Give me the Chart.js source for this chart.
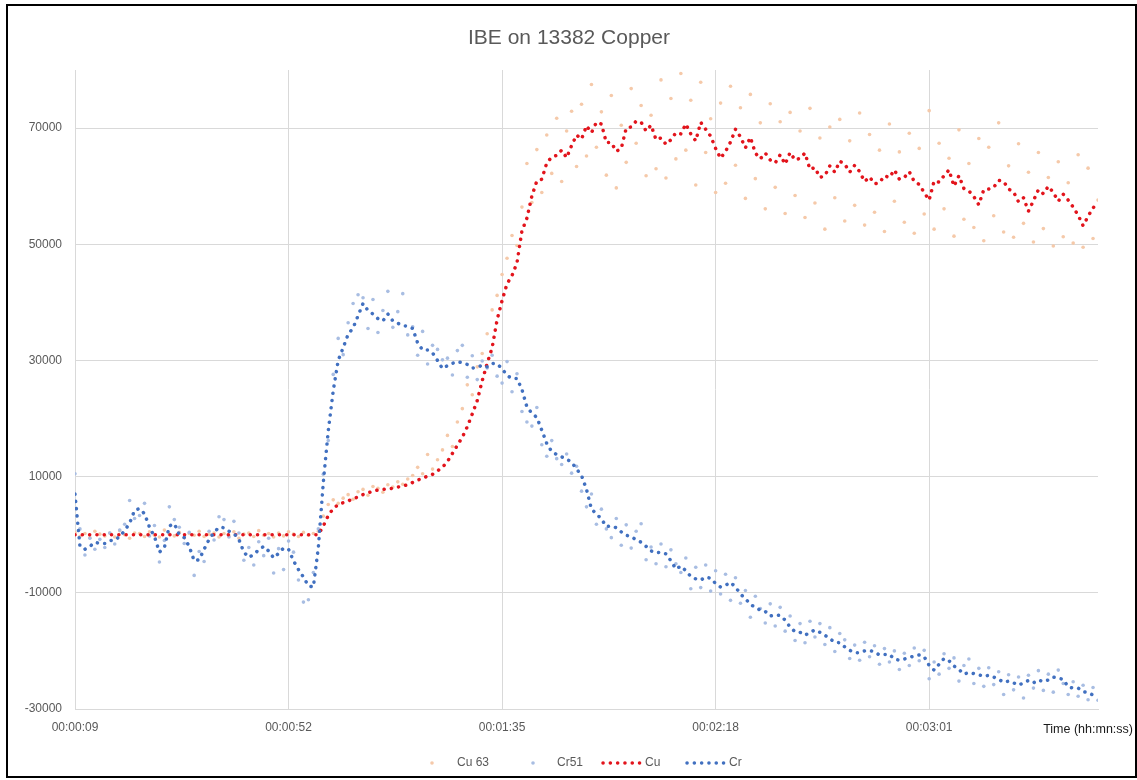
<!DOCTYPE html>
<html>

<head>
  <script src="https://cdn.jsdelivr.net/npm/chart.js@4.4.1/dist/chart.umd.min.js"></script>
  <style>
    body { margin: 0; background: #fff; }
    #wrap { position: relative; width: 1137px; height: 780px; }
    #frame { position: absolute; left: 6px; top: 4px; width: 1127px; height: 770px; border: 2px solid #000; pointer-events: none; }
  </style>
</head>

<body>
  <div id="wrap">
    <canvas id="chart" width="1137" height="780"></canvas>
    <div id="frame"></div>
  </div>
  <script>
    // elapsed time in seconds
    var seconds = [
      9, 10, 11, 12, 13, 14, 15, 16, 17, 18,
      19, 20, 21, 22, 23, 24, 25, 26, 27, 28,
      29, 30, 31, 32, 33, 34, 35, 36, 37, 38,
      39, 40, 41, 42, 43, 44, 45, 46, 47, 48,
      49, 50, 51, 52, 53, 54, 55, 56, 57, 58,
      59, 60, 61, 62, 63, 64, 65, 66, 67, 68,
      69, 70, 71, 72, 73, 74, 75, 76, 77, 78,
      79, 80, 81, 82, 83, 84, 85, 86, 87, 88,
      89, 90, 91, 92, 93, 94, 95, 96, 97, 98,
      99, 100, 101, 102, 103, 104, 105, 106, 107, 108,
      109, 110, 111, 112, 113, 114, 115, 116, 117, 118,
      119, 120, 121, 122, 123, 124, 125, 126, 127, 128,
      129, 130, 131, 132, 133, 134, 135, 136, 137, 138,
      139, 140, 141, 142, 143, 144, 145, 146, 147, 148,
      149, 150, 151, 152, 153, 154, 155, 156, 157, 158,
      159, 160, 161, 162, 163, 164, 165, 166, 167, 168,
      169, 170, 171, 172, 173, 174, 175, 176, 177, 178,
      179, 180, 181, 182, 183, 184, 185, 186, 187, 188,
      189, 190, 191, 192, 193, 194, 195, 196, 197, 198,
      199, 200, 201, 202, 203, 204, 205, 206, 207, 208,
      209, 210, 211, 212, 213, 214, 215
    ];

    var cu63 = [
      400, -300, 200, -500, 600, 100, -200, 300, -400, 700,
      0, -600, 300, 200, -300, 500, -100, -400, 800, 100,
      -200, 400, -500, 200, -100, 600, -300, 100, 300, -400,
      200, -200, 500, -600, 100, 300, -300, 700, -100, 200,
      -400, 300, -200, 500, 100, -300, 400, -100, 200, 600,
      3200, 5200, 6000, 5400, 6300, 6900, 6100, 7400, 7800, 6800,
      8300, 8000, 7300, 8600, 8200, 9100, 8700, 9600, 10200, 11600,
      10500, 13800, 11300, 12900, 14600, 17100, 15200, 19400, 21700, 25800,
      24100, 28900, 31200, 34600, 38700, 41200, 44800, 47600, 51500, 49800,
      56400, 63900, 57200, 66300, 58900, 68800, 62200, 71700, 60800, 69500,
      72900, 63400, 74100, 65200, 77500, 66700, 72800, 61900, 75600, 59700,
      70500, 64100, 76800, 67400, 73900, 61800, 72200, 63000, 78300, 61400,
      75100, 64700, 79400, 66200, 74800, 60200, 77900, 65800, 71600, 58900,
      74300, 60500, 77200, 63600, 73500, 57900, 75800, 61300, 70900, 56100,
      74200, 59800, 71100, 55300, 72700, 58400, 69500, 54600, 73400, 57100,
      68300, 52600, 70200, 58000, 71500, 54000, 67800, 56700, 72600, 53300,
      68900, 55500, 66200, 52200, 70700, 57400, 65900, 53800, 69100, 51900,
      66500, 55200, 73000, 52600, 67400, 56100, 64800, 51400, 69700, 54300,
      63900, 52900, 68200, 50600, 66700, 54900, 70900, 52100, 63500, 51200,
      67300, 53600, 62400, 50400, 65800, 52700, 61500, 49700, 64200, 51300,
      60600, 50200, 65400, 49500, 63100, 51000, 57600
    ];

    var cr51 = [
      10500, 1000, -3500, -600, -2500, -800, -2200, 300, -1600, 800,
      1800, 5900, 2800, 3300, 5400, -200, 1600, -4700, -1000, 4800,
      2600, 1300, -1500, 400, -7000, -2900, -4600, 600, -900, 3100,
      2600, -400, 2300, 300, -4400, -2200, -5200, -1200, -3600, -600,
      -6600, -2400, -6000, -1100, -3000, -7800, -11600, -11200, -6500, 1000,
      10400, 16200, 27600, 33800, 31000, 36500, 39800, 41300, 40800, 35500,
      40500, 34800, 38600, 41900, 35700, 38400, 41500, 34400, 35800, 30900,
      35000, 29400, 32600, 31900, 30100, 30400, 27500, 31700, 32600, 27100,
      30800, 26700, 29900, 28700, 30900, 27300, 26100, 29800, 24600, 27700,
      21200, 19400, 18700, 21900, 15500, 13500, 16200, 13100, 12100, 13900,
      10600, 11800, 7500, 4800, 7000, 1800, 4400, 1000, -500, 2800,
      -1800, 1700, -2300, 600, 1900, -4300, -2100, -5000, -1600, -5500,
      -2600, -5000, -6500, -4000, -9300, -5600, -9100, -5200, -9700, -6200,
      -10200, -6800, -11300, -7400, -11800, -9600, -14200, -10600, -12700, -15200,
      -11900, -15700, -12500, -16600, -14000, -18200, -15300, -18600, -14900, -17600,
      -15300, -18900, -16000, -20100, -17000, -18100, -21300, -19000, -21600, -18500,
      -21000, -19100, -22300, -19600, -21900, -20000, -23200, -20400, -22500, -19500,
      -21700, -19900, -24800, -21900, -24000, -20500, -23000, -21200, -25200, -22500,
      -21400, -25600, -23000, -26100, -22900, -25800, -23600, -27500, -24100, -26700,
      -24500, -28100, -24200, -26400, -23400, -26800, -24000, -27100, -23300, -25600,
      -27500, -25300, -27800, -25900, -28400, -26300, -28500
    ];

    var cu = [
      0, 0, 0, 0, 0, 0, 0, 0, 0, 0,
      0, 0, 0, 0, 0, 0, 0, 0, 0, 0,
      0, 0, 0, 0, 0, 0, 0, 0, 0, 0,
      0, 0, 0, 0, 0, 0, 0, 0, 0, 0,
      0, 0, 0, 0, 0, 0, 0, 0, 0, 0,
      1500, 3300, 4500, 5200, 5500, 5800, 6200, 6500, 6900, 7200,
      7500, 7700, 7800, 7900, 8000, 8200, 8400, 8600, 9000, 9400,
      9700, 10100, 10400, 11000, 11600, 12600, 14000, 15400, 16800, 18600,
      20800, 23100, 26500, 29500, 32200, 37000, 40300, 43200, 44600, 46800,
      52300, 54500, 58300, 60900, 61200, 64000, 65000, 65300, 66200, 64900,
      67000, 68800, 68100, 70400, 69200, 71000, 70700, 67500, 67500, 66000,
      66500, 70000, 70200, 71200, 71000, 69500, 70500, 68000, 68300, 67200,
      68000, 69200, 69000, 70700, 69000, 67800, 71000, 69800, 68600, 66500,
      64800, 66000, 67600, 69800, 68500, 66600, 68400, 65700, 64700, 65700,
      64500, 64000, 65400, 63800, 65800, 64500, 64800, 65700, 62900, 63200,
      61500, 61800, 63500, 62400, 64300, 63800, 62400, 63600, 62500, 60800,
      61600, 60400, 60600, 61800, 61500, 62800, 61200, 61500, 62500, 60800,
      60300, 58900, 57600, 60900, 60700, 61800, 62800, 60000, 61800, 59600,
      59200, 58200, 56800, 59400, 59500, 59800, 61000, 60800, 59500, 59000,
      57300, 58000, 55700, 57500, 59400, 58700, 60000, 58900, 57400, 58600,
      57600, 56400, 55000, 53200, 54800, 56300, 56900
    ];

    var cr = [
      7000, -2000, -2500, -2000, -1300, -1500, -1500, -1000, -950, -300,
      700, 2000, 4200, 4500, 3600, 1300, -300, -3000, -2200, 1500,
      1900, 0, -500, -2000, -4500, -4300, -2500, -800, 400, 1300,
      1200, 600, 200, -800, -3000, -3900, -3400, -2600, -2000, -2800,
      -4000, -3200, -2300, -2500, -4500, -6000, -7300, -8800, -9000, -2200,
      9000, 17900, 24800, 30000, 32200, 34500, 35600, 37700, 39800, 38600,
      38000, 37200, 36800, 38000, 36800, 36400, 36000, 35900, 35500, 33000,
      31800, 31800, 31300, 30000, 28600, 29100, 29500, 29800, 29600, 29300,
      28700, 28800, 29200, 28900, 29500, 29400, 28600, 27400, 26900, 26900,
      25000, 22000, 20900, 20200, 18000, 15700, 14300, 13800, 13400, 13000,
      12500, 11300, 10200, 7800, 4400, 3600, 2700, 1400, 1500, 1200,
      500, -100, -300, -900, -1300, -2000, -2800, -3100, -3000, -3300,
      -4500, -5900, -5400, -6200, -7200, -7600, -7800, -7300, -7500, -8400,
      -9000, -8700, -8200, -9000, -10200, -11000, -12000, -12500, -13000, -13200,
      -14000, -13800, -13900, -14700, -15900, -16700, -16800, -17300, -16800, -16400,
      -16800, -17300, -17900, -18500, -18600, -19300, -19900, -20300, -20300, -20000,
      -19900, -20200, -20700, -20600, -20600, -21400, -21600, -21400, -21100, -20900,
      -20700, -21000, -22500, -23300, -22300, -21300, -21700, -22600, -23200, -24000,
      -23700, -23900, -24100, -24400, -24200, -24500, -24900, -25400, -25200, -25500,
      -25900, -25500, -25100, -25500, -25000, -25300, -25000, -24500, -24700, -24900,
      -26200, -26400, -26400, -27000, -27200, -27600, -28100
    ];

    var xTicks = [9, 52, 95, 138, 181];
    var yTicks = [-30000, -10000, 10000, 30000, 50000, 70000];

    var CU63_COL = '#f5c9a9';
    var CR51_COL = '#a8bde2';
    var CU_COL = '#e2141c';
    var CR_COL = '#4170c0';
    var DOTS = [0.1, 7.2];
    var FONT = 'Liberation Sans';

    function pts(ys) {
      return seconds.map(function (t, i) { return { x: t, y: ys[i] }; });
    }

    function hms(v) {
      var h = Math.floor(v / 3600), m = Math.floor((v % 3600) / 60), s = v % 60;
      return [h, m, s].map(function (n) { return (n < 10 ? '0' : '') + n; }).join(':');
    }

    // title, axis caption and legend drawn on the canvas
    var decor = {
      id: 'decor',
      afterDraw: function (chart) {
        var c = chart.ctx;
        c.save();
        c.fillStyle = '#595959';
        c.textBaseline = 'middle';
        c.font = '21px "' + FONT + '"';
        c.textAlign = 'center';
        c.fillText('IBE on 13382 Copper', 569, 38);

        c.fillStyle = '#1a1a1a';
        c.font = '12.5px "' + FONT + '"';
        c.textAlign = 'right';
        c.fillText('Time (hh:mn:ss)', 1133, 730);

        c.textAlign = 'left';
        c.fillStyle = '#595959';
        c.font = '12px "' + FONT + '"';
        c.beginPath(); c.arc(432, 763, 1.8, 0, Math.PI * 2); c.fillStyle = CU63_COL; c.fill();
        c.fillStyle = '#595959'; c.fillText('Cu 63', 457, 763);
        c.beginPath(); c.arc(533, 763, 1.8, 0, Math.PI * 2); c.fillStyle = CR51_COL; c.fill();
        c.fillStyle = '#595959'; c.fillText('Cr51', 557, 763);

        c.lineCap = 'round';
        c.lineWidth = 3.5;
        c.setLineDash(DOTS);
        c.strokeStyle = CU_COL;
        c.beginPath(); c.moveTo(603, 763); c.lineTo(641, 763); c.stroke();
        c.strokeStyle = CR_COL;
        c.beginPath(); c.moveTo(687, 763); c.lineTo(725, 763); c.stroke();
        c.setLineDash([]);
        c.fillText('Cu', 645, 763);
        c.fillText('Cr', 729, 763);
        c.restore();
      }
    };

    var tickFont = { family: FONT, size: 12 };

    new Chart(document.getElementById('chart').getContext('2d'), {
      type: 'scatter',
      data: {
        datasets: [
          { label: 'Cu 63', data: pts(cu63), backgroundColor: CU63_COL, borderWidth: 0, pointRadius: 1.8, order: 4 },
          { label: 'Cr51', data: pts(cr51), backgroundColor: CR51_COL, borderWidth: 0, pointRadius: 1.8, order: 3 },
          {
            label: 'Cu', data: pts(cu), showLine: true, pointRadius: 0, borderColor: CU_COL,
            borderWidth: 3.5, borderDash: DOTS, borderCapStyle: 'round', borderJoinStyle: 'round', order: 2
          },
          {
            label: 'Cr', data: pts(cr), showLine: true, pointRadius: 0, borderColor: CR_COL,
            borderWidth: 3.5, borderDash: DOTS, borderCapStyle: 'round', borderJoinStyle: 'round', order: 1
          }
        ]
      },
      options: {
        responsive: false,
        animation: false,
        events: [],
        layout: { padding: { left: 0, right: 39, top: 70, bottom: 41 } },
        plugins: { legend: { display: false }, title: { display: false }, tooltip: { enabled: false } },
        scales: {
          x: {
            type: 'linear', min: 9, max: 215,
            afterBuildTicks: function (s) { s.ticks = xTicks.map(function (v) { return { value: v }; }); },
            afterFit: function (s) { s.height = 30; },
            ticks: { callback: function (v) { return hms(v); }, color: '#595959', font: tickFont, padding: 11, maxRotation: 0, autoSkip: false },
            grid: { color: '#d9d9d9', drawTicks: false },
            border: { color: '#d9d9d9' }
          },
          y: {
            min: -30000, max: 80000,
            afterBuildTicks: function (s) { s.ticks = yTicks.map(function (v) { return { value: v }; }); },
            afterFit: function (s) { s.width = 75; },
            ticks: { callback: function (v) { return String(v); }, color: '#595959', font: tickFont, padding: 13 },
            grid: { color: '#d9d9d9', drawTicks: false },
            border: { color: '#d9d9d9' }
          }
        }
      },
      plugins: [decor]
    });
  </script>
</body>

</html>
